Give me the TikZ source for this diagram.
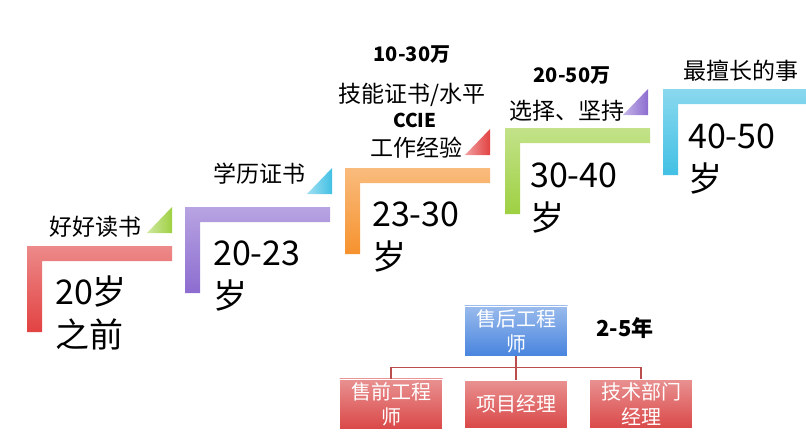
\documentclass[tikz,border=0pt]{standalone}
\usepackage{fontspec}
\setmainfont{Noto Sans CJK SC}
\usetikzlibrary{positioning}
\definecolor{stagered}{RGB}{226, 66, 66}
\definecolor{stagepurple}{RGB}{140, 108, 208}
\definecolor{stageorange}{RGB}{246, 146, 46}
\definecolor{stagegreen}{RGB}{158, 208, 66}
\definecolor{stagecyan}{RGB}{66, 192, 228}
\definecolor{orgblue}{RGB}{72, 132, 222}
\definecolor{orgred}{RGB}{218, 72, 72}
\definecolor{orgline}{RGB}{186, 78, 78}

\tikzset{
  stagelbl/.style={anchor=base east, inner sep=0pt, font=\fontsize{23}{26}\selectfont},
  agelbl/.style={anchor=base west, inner sep=0pt, font=\fontsize{34}{40}\selectfont},
  paylbl/.style={anchor=base, inner sep=0pt, font=\bfseries\fontsize{20}{24}\selectfont},
  orgbox/.style={draw=white, line width=0.8pt, minimum width=103pt, minimum height=48pt,
    align=center, text=white, font=\fontsize{20}{25}\selectfont}
}

\begin{document}
\begin{tikzpicture}[x=1pt, y=-1pt]
  \useasboundingbox (0,0) rectangle (806,442);
  % stairs
  \foreach \x/\y/\col in {27/246/stagered, 185/207/stagepurple, 345/168/stageorange, 505/128/stagegreen, 663/89/stagecyan}
    \shade[top color=\col!62!white, bottom color=\col] (\x,\y) -- ++(145,0) -- ++(0,15) -- ++(-130,0) -- ++(0,71) -- ++(-15,0) -- cycle;
  \foreach \x/\y/\col in {172/246/stagegreen, 332/207/stagecyan, 490/168/stagered, 648/128/stagepurple}
    \shade[left color=\col!50!white, right color=\col] ({\x-25},{\y-13}) -- ({\x},{\y-13}) -- ({\x},{\y-39}) -- cycle;

  % labels above the steps
  \node[stagelbl] (read) at (142,235) {好好读书};
  \node[stagelbl] (degree) at (306,182) {学历证书};
  \node[stagelbl] (work) at (463,156) {工作经验};
  \node[stagelbl, anchor=base] (ccie) at (415,127) {\bfseries\fontsize{19}{22}\selectfont CCIE};
  \node[stagelbl, anchor=base] (skill) at (412,102) {技能证书/水平};
  \node[paylbl] (payA) at (412,61) {10-30万};
  \node[paylbl] (payB) at (572,82) {20-50万};
  \node[stagelbl] (keep) at (625,119) {选择、坚持};
  \node[stagelbl, anchor=base west] (best) at (683,79) {最擅长的事};

  % ages
  \node[agelbl] (ageA) at (55,304) {20岁};
  \node[agelbl] (ageAb) at (55,347) {之前};
  \node[agelbl] (ageB) at (213,265) {20-23};
  \node[agelbl] (ageBb) at (213,308) {岁};
  \node[agelbl] (ageC) at (372,226) {23-30};
  \node[agelbl] (ageCb) at (372,269) {岁};
  \node[agelbl] (ageD) at (530,187) {30-40};
  \node[agelbl] (ageDb) at (530,230) {岁};
  \node[agelbl] (ageE) at (688,148) {40-50};
  \node[agelbl] (ageEb) at (688,191) {岁};

  % career tree
  \node[orgbox, top color=orgblue!55!white, bottom color=orgblue] (after) at (516,331) {售后工程\\师};
  \node[paylbl, font=\bfseries\fontsize{22}{26}\selectfont] (years) at (625,336) {2-5年};
  \node[orgbox, top color=orgred!60!white, bottom color=orgred] (pre) at (391,404) {售前工程\\师};
  \node[orgbox, top color=orgred!60!white, bottom color=orgred] (pm) at (516,404) {项目经理};
  \node[orgbox, top color=orgred!60!white, bottom color=orgred] (tech) at (641,404) {技术部门\\经理};
  \draw[orgline, line width=1.5pt] (after.south) -- ++(0,11) coordinate (bus);
  \draw[orgline, line width=1.5pt] (bus) -| (pre.north);
  \draw[orgline, line width=1.5pt] (bus) -| (tech.north);
  \draw[orgline, line width=1.5pt] (bus) -- (pm.north);
\end{tikzpicture}
\end{document}
